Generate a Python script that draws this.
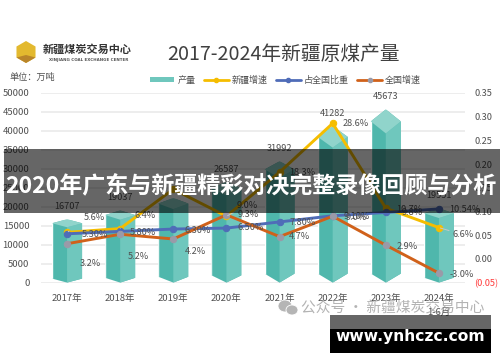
import numpy as np, pandas as pd, matplotlib
matplotlib.use('Agg')
import matplotlib.pyplot as plt, seaborn as sns
from matplotlib.patches import Rectangle, Polygon, Ellipse
from matplotlib.path import Path
from matplotlib.lines import Line2D
from matplotlib.patches import Patch

years = ['2017年','2018年','2019年','2020年','2021年','2022年','2023年','2024年\n1-6月']
output = [16707,19037,22300,26587,31992,41282,45673,19551]
output_labels = ['16707','19037','','26587','31992','41282','45673','19551']
xj_growth = [.056,.064,.147,.090,.183,.286,.107,.066]
xj_labels = ['5.6%','6.4%','','9.0%','18.3%','28.6%','10.7%','6.6%']
share = [.053,.058,.063,.065,.078,.091,.098,.1054]
share_labels = ['5.30%','5.80%','6.30%','6.50%','7.80%','9.10%','9.8%','10.54%']
cn_growth = [.032,.052,.042,.093,.047,.090,.029,-.030]
cn_labels = ['3.2%','5.2%','4.2%','9.3%','4.7%','9.0%','2.9%','-3.0%']

W,H = 500,362
sns.set_theme(style='white')
plt.rcParams['font.family'] = ['Noto Sans CJK SC','DejaVu Sans']
TXT='#505050'
fig = plt.figure(figsize=(5,3.62),dpi=100,facecolor='white')
def fx(x): return x/W
def fy(y): return 1-y/H
ax = fig.add_axes([fx(40.5),fy(282.6),(465.5-40.5)/W,(282.6-93)/H])
df = pd.DataFrame({'year':years,'output':output})
LEFT,RIGHT,TOP='#4fb7ac','#6fc7bd','#90d4cb'
sns.barplot(data=df,x='year',y='output',color=LEFT,saturation=1,width=.566,ax=ax,zorder=3)
ax.set_xlim(-.5,7.5); ax.set_ylim(0,50000)
ax.set_xlabel(''); ax.set_ylabel('')
ax.set_yticks(range(0,50001,5000))
ax.set_yticklabels([str(v) for v in range(0,50001,5000)],fontsize=6.8,color=TXT)
ax.tick_params(axis='both',length=0,pad=8)
ax.tick_params(axis='x',pad=8,labelsize=6.8,labelcolor=TXT)
for lab in ax.get_xticklabels(): lab.set_linespacing(1.75)
ax.grid(axis='y',color='#e8e8e8',lw=1.1); ax.set_axisbelow(True)
for s in ax.spines.values(): s.set_visible(False)
ppu = (282.6-93)/50000   # pixels per unit of output
hw=.283
for i,(v,p) in enumerate(zip(output,ax.patches)):
    d = (8+(v-16700)/29000*16)/ppu       # depth of the top face
    r = float(np.clip(4+(v-16700)/3000,4,9))/ppu  # rise of the bottom corners
    side = v-d*.5; front=v-d
    sil = [(i-hw,r),(i,0),(i+hw,r),(i+hw,side),(i,v),(i-hw,side)]
    p.set_clip_path(Path(sil+[sil[0]]),ax.transData)
    ax.add_patch(Polygon([(i,0),(i+hw,r),(i+hw,side),(i,front)],fc=RIGHT,ec='none',zorder=3.1))
    ax.add_patch(Polygon([(i-hw,side),(i,v),(i+hw,side),(i,front)],fc=TOP,ec='none',zorder=3.2))
    ax.annotate(output_labels[i],(i,v),xytext=(0,12.5),textcoords='offset pixels',ha='center',va='center',fontsize=6.6,color=TXT,zorder=4)

ax2 = ax.twinx()
ax2.set_ylim(-.05,.35)
ax2.set_zorder(ax.get_zorder()+1)
x = np.arange(len(years))
for vals,c,mc in [(xj_growth,'#f5bd00','#f5bd00'),(share,'#4f6cb8','#4f6cb8'),(cn_growth,'#d0611a','#9a9aa8')]:
    sns.lineplot(x=x,y=vals,color=c,lw=2.1,marker='o',markersize=4.6,markerfacecolor=mc,markeredgecolor=mc,ax=ax2,zorder=5,legend=False)
ax2.set_xlim(-.5,7.5); ax2.set_ylabel('')
ticks=np.arange(-.05,.351,.05)
ax2.set_yticks(ticks)
ax2.set_yticklabels(['(0.05)']+[f'{t:.2f}' for t in ticks[1:]],fontsize=6.6,color=TXT)
ax2.get_yticklabels()[0].set_color('#ff3b3b')
ax2.tick_params(axis='y',length=0,pad=6.5)
for s in ax2.spines.values(): s.set_visible(False)
ax2.grid(False)

xj_off=[(27,14.5),(25,13),(0,0),(21,11),(23,0),(23,0),(24,-1),(24,-7)]
share_off=[(28,-1),(23,-1.5),(24,-1),(24,1),(23,-1),(24,-1),(26,0),(26,-1)]
cn_off=[(23,-20),(18,-22),(22,-13),(22,0),(20,0),(24,-1),(21,-1),(23,-1)]
for vals,labs,offs,lead in [(xj_growth,xj_labels,xj_off,True),(share,share_labels,share_off,False),(cn_growth,cn_labels,cn_off,False)]:
    for i,(v,l,o) in enumerate(zip(vals,labs,offs)):
        if not l: continue
        kw={}
        if lead and abs(o[1])>5:
            kw['arrowprops']=dict(arrowstyle='-',color='#c8c8c8',lw=.7,shrinkA=9,shrinkB=1)
        ax2.annotate(l,(i,v),xytext=o,textcoords='offset pixels',ha='center',va='center',fontsize=6.6,color=TXT,zorder=6,**kw)

handles=[Patch(fc=RIGHT,ec='none'),
         Line2D([],[],color='#f5bd00',lw=2,marker='o',ms=3),
         Line2D([],[],color='#4f6cb8',lw=2,marker='o',ms=3),
         Line2D([],[],color='#d0611a',lw=2,marker='o',ms=3,mfc='#9a9aa8',mec='#9a9aa8')]
fig.legend(handles,['产量','新疆增速','占全国比重','全国增速'],loc='center',bbox_to_anchor=(fx(285.5),fy(80)),ncol=4,frameon=False,
           fontsize=6.5,labelcolor=TXT,handlelength=2.7,handleheight=.5,handletextpad=.35,columnspacing=.95)

def t(x,y,s,**k):
    k.setdefault('ha','center'); k.setdefault('va','center')
    return fig.text(fx(x),fy(y),s,**k)
t(283.5,55,'2017-2024年新疆原煤产量',fontsize=14.2,color='#404040')
t(9,77,'单位：万吨',ha='left',fontsize=6.6,color=TXT)
# logo
ang=np.deg2rad(np.arange(90,450,60))
cx,cy=26,52
hexa=[(fx(cx+11*np.cos(a)),fy(cy-11*np.sin(a))) for a in ang]
fig.add_artist(Polygon(hexa,fc='#e3b92f',ec='none',transform=fig.transFigure,zorder=2))
low=[hexa[2],hexa[3],hexa[4],(fx(cx),fy(cy+3))]
fig.add_artist(Polygon(low,fc='#b9852a',ec='none',transform=fig.transFigure,zorder=2.1))
t(87.5,49,'新疆煤炭交易中心',fontsize=8,color='#333333',fontweight='bold')
t(88.5,59.5,'XINJIANG COAL EXCHANGE CENTER',fontsize=2.9,color='#555555',family='DejaVu Sans',fontweight='bold')
# watermark
for ex,ey,ew,eh in [(285,306,14,12),(292,310,12,10)]:
    fig.add_artist(Ellipse((fx(ex),fy(ey)),ew/W,eh/H,fc='#b5b5b5',ec='white',lw=.6,transform=fig.transFigure,zorder=8))
t(393,308,'公众号 · 新疆煤炭交易中心',fontsize=10.6,color='#9a9a9a',alpha=.75,zorder=8)
# banner
fig.add_artist(Rectangle((fx(4),fy(213)),496/W,64/H,fc='black',alpha=.6,ec='none',transform=fig.transFigure,zorder=10))
t(250.5,186,'2020年广东与新疆精彩对决完整录像回顾与分析',fontsize=16.6,color='white',fontweight='bold',zorder=11)
fig.add_artist(Rectangle((fx(330),fy(329)),161/W,14/H,fc='black',alpha=.6,ec='none',transform=fig.transFigure,zorder=10))
fig.add_artist(Rectangle((fx(330),fy(353)),161/W,24/H,fc='black',ec='none',transform=fig.transFigure,zorder=10))
t(410,337,'www.ynhczc.com',fontsize=11.2,color='white',fontweight='bold',family='DejaVu Sans',zorder=11)
fig.savefig('out.png',dpi=100)
